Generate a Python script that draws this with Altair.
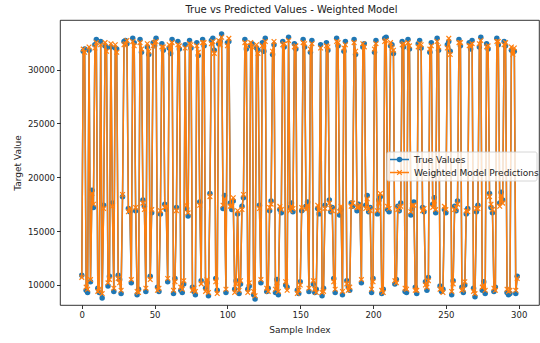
import altair as alt
import pandas as pd

# Sample positions and the two series plotted against them
sample_index = list(range(300))

true_values = [
    10900, 31700, 31900, 9500, 9300, 31800, 10300, 18800, 17200, 32300,
    32800, 9700, 9300, 32600, 8800, 17400, 32200, 32000, 9900, 10800,
    32100, 17600, 9400, 32000, 31900, 10900, 10500, 9200, 18200, 32600,
    32700, 32400, 17100, 16800, 10200, 32900, 32500, 16900, 9100, 9600,
    32800, 31600, 17900, 17300, 9400, 32100, 31400, 10800, 16700, 32500,
    32200, 32900, 9800, 9400, 16600, 32400, 31800, 17500, 17000, 10300,
    32000, 31500, 32800, 9200, 10600, 17200, 32600, 31900, 9500, 9300,
    10100, 32300, 17100, 16400, 32700, 32000, 9800, 9400, 9100, 32500,
    31300, 17700, 10400, 32800, 32200, 9700, 10200, 9000, 18500, 32700,
    32900, 31800, 10600, 9500, 32400, 32600, 33300, 17100, 18300, 9300,
    32500, 32600, 17600, 17000, 17800, 9600, 10400, 16600, 9200, 10100,
    17300, 18100, 32800, 31900, 9600, 9900, 32200, 32400, 9100, 8700,
    32000, 31800, 17400, 10200, 32500, 31700, 32900, 9400, 9700, 16900,
    17800, 31400, 32300, 9300, 10500, 9100, 17000, 16700, 32600, 32100,
    10000, 9800, 33000, 17200, 17600, 16800, 32400, 31900, 9500, 9200,
    10300, 16900, 32800, 32100, 17300, 17700, 9400, 31600, 32700, 10100,
    9300, 9600, 17100, 16600, 32300, 9000, 9700, 17400, 32500, 31800,
    17900, 16800, 17200, 10600, 9300, 32900, 32200, 16500, 17000, 9100,
    31700, 32600, 10400, 9800, 9500, 17600, 17300, 32800, 31400, 16900,
    17500, 17100, 10200, 32100, 32400, 17400, 18300, 16800, 17200, 9300,
    10600, 31600, 32700, 16600, 17900, 18200, 9200, 9600, 32900, 33000,
    17000, 16800, 32200, 32300, 31500, 10100, 10500, 17300, 16900, 17600,
    32600, 32100, 9400, 9300, 32800, 31900, 16500, 17100, 17700, 9800,
    9200, 32400, 32700, 32000, 17200, 16800, 10300, 9500, 10700, 31600,
    32500, 17500, 18100, 16700, 32900, 31800, 9900, 9400, 9600, 17000,
    16700, 32300, 32600, 31700, 9100, 10400, 17300, 16900, 17800, 32800,
    32200, 9800, 9300, 10000, 16600, 17100, 32500, 31900, 32700, 9700,
    8900, 16800, 17400, 32100, 33000, 9500, 10300, 9200, 32400, 31900,
    18500, 17200, 16700, 9400, 9800, 32900, 32300, 17600, 18600, 17900,
    32600, 32200, 9300, 9100, 9200, 31800, 31700, 31700, 9200, 10800,
]

predicted_values = [
    10700, 31900, 31600, 9800, 9600, 32100, 10500, 18500, 17500, 32000,
    32500, 9400, 9600, 32300, 9200, 17100, 32500, 31700, 10200, 10500,
    32400, 17300, 9700, 32300, 31600, 10600, 10200, 9500, 18400, 32300,
    32400, 32700, 16800, 17100, 10500, 32600, 32200, 17200, 9400, 9300,
    32500, 31900, 17600, 17000, 9700, 32400, 31700, 10500, 17000, 32200,
    32500, 32600, 9500, 9700, 16900, 32100, 32100, 17200, 17300, 10600,
    32300, 31800, 32500, 9500, 10300, 16900, 32300, 32200, 9800, 9600,
    10400, 32000, 17400, 16700, 32400, 32300, 9500, 9700, 9400, 32200,
    31600, 17400, 10100, 32500, 32500, 9400, 10500, 9300, 18200, 32400,
    32600, 31500, 10300, 9200, 32700, 32300, 33000, 17400, 18000, 9600,
    32200, 32900, 17300, 17300, 18100, 9300, 10100, 16900, 9500, 10400,
    17000, 18400, 32500, 32200, 9300, 10200, 32500, 32100, 9400, 9000,
    32300, 31500, 17100, 10500, 32200, 32000, 32600, 9700, 9400, 17200,
    17500, 31700, 32600, 9600, 10200, 9400, 17300, 17000, 32300, 32400,
    10300, 9500, 32700, 16900, 17300, 17100, 32100, 32200, 9200, 9500,
    10000, 17200, 32500, 32400, 17000, 17400, 9700, 31900, 32400, 10400,
    9600, 9300, 17400, 16900, 32000, 9300, 9400, 17100, 32200, 32100,
    17600, 17100, 16900, 10300, 9600, 32600, 32500, 16800, 17300, 9400,
    32000, 32300, 10100, 9500, 9800, 17300, 17600, 32500, 31700, 17200,
    17200, 17400, 10500, 32400, 32100, 17100, 18000, 17100, 16900, 9600,
    10300, 31900, 32400, 16900, 17600, 18500, 9500, 9300, 32600, 32700,
    17300, 17100, 32500, 32000, 31800, 10400, 10200, 17000, 17200, 17300,
    32300, 32400, 9700, 9600, 32500, 32200, 16800, 17400, 17400, 9500,
    9500, 32100, 32400, 32300, 16900, 17100, 10000, 9800, 10400, 31900,
    32200, 17200, 17800, 17000, 32600, 32100, 9600, 9700, 9300, 17300,
    17000, 32000, 32900, 31400, 9400, 10100, 17000, 17200, 17500, 32500,
    32500, 9500, 9600, 10300, 16900, 16800, 32200, 32200, 32400, 9400,
    9200, 17100, 17100, 32400, 32700, 9800, 10000, 9500, 32100, 32200,
    18200, 17500, 17000, 9700, 9500, 32600, 32600, 17300, 18300, 17600,
    32300, 32500, 9600, 9400, 9500, 32100, 31400, 32000, 9500, 10600,
]

assert len(true_values) == len(sample_index) == len(predicted_values)

series_names = ["True Values", "Weighted Model Predictions"]
series_colors = ["#1f77b4", "#ff7f0e"]
x_ticks = [0, 50, 100, 150, 200, 250, 300]
y_ticks = [10000, 15000, 20000, 25000, 30000]

true_df = pd.DataFrame({"Sample Index": sample_index, "Target Value": true_values})
pred_df = pd.DataFrame({"Sample Index": sample_index, "Target Value": predicted_values})

x_enc = alt.X(
    "Sample Index:Q",
    scale=alt.Scale(domain=[-14.95, 313.95], nice=False, zero=False),
    axis=alt.Axis(values=x_ticks, title="Sample Index", format="d"),
)
y_enc = alt.Y(
    "Target Value:Q",
    scale=alt.Scale(domain=[8140, 34600], nice=False, zero=False),
    axis=alt.Axis(values=y_ticks, title="Target Value", format="d"),
)

true_line = alt.Chart(true_df).mark_line(
    color=series_colors[0], strokeWidth=1.5
).encode(x=x_enc, y=y_enc)
true_pts = alt.Chart(true_df).mark_point(
    shape="circle", filled=True, size=30, color=series_colors[0], opacity=1
).encode(x=x_enc, y=y_enc)
pred_line = alt.Chart(pred_df).mark_line(
    color=series_colors[1], strokeWidth=1.5
).encode(x=x_enc, y=y_enc)
x_marker = "M-1,-1L1,1M-1,1L1,-1"
pred_pts = alt.Chart(pred_df).mark_point(
    shape=x_marker, filled=False, size=22, strokeWidth=1.2,
    color=series_colors[1], opacity=1
).encode(x=x_enc, y=y_enc)

# Legend box drawn in the plot's own pixel space
one = pd.DataFrame({"k": [0]})
lg_left, lg_right, lg_top, lg_bottom = 327, 477, 132, 161
row_y = [139.5, 152.5]
legend_box = alt.Chart(one).mark_rect(
    fill="white", fillOpacity=0.8, stroke="#cccccc", strokeWidth=0.8, cornerRadius=2
).encode(
    x=alt.value(lg_left), x2=alt.value(lg_right),
    y=alt.value(lg_top), y2=alt.value(lg_bottom),
)
legend_layers = [legend_box]
for i, name in enumerate(series_names):
    legend_layers.append(
        alt.Chart(one).mark_rule(color=series_colors[i], strokeWidth=1.5).encode(
            x=alt.value(330), x2=alt.value(349), y=alt.value(row_y[i])
        )
    )
    if i == 0:
        legend_layers.append(
            alt.Chart(one).mark_point(
                shape="circle", filled=True, size=30, color=series_colors[i], opacity=1
            ).encode(x=alt.value(339.5), y=alt.value(row_y[i]))
        )
    else:
        legend_layers.append(
            alt.Chart(one).mark_point(
                shape=x_marker, filled=False, size=22, strokeWidth=1.2,
                color=series_colors[i], opacity=1
            ).encode(x=alt.value(339.5), y=alt.value(row_y[i]))
        )
    legend_layers.append(
        alt.Chart(one).mark_text(
            text=name, align="left", baseline="middle", fontSize=9,
            font="DejaVu Sans", color="#222222"
        ).encode(x=alt.value(354), y=alt.value(row_y[i]))
    )

chart = alt.layer(true_line, true_pts, pred_line, pred_pts, *legend_layers).properties(
    width=479,
    height=285,
    autosize=alt.AutoSizeParams(type="none"),
    padding={"left": 60, "top": 20, "right": 1, "bottom": 38},
    title=alt.TitleParams(
        "True vs Predicted Values - Weighted Model",
        fontSize=10, font="DejaVu Sans", fontWeight="normal",
        color="#222222", offset=5, dx=-8,
    ),
).configure_axis(
    grid=False, domain=False, tickColor="black", tickSize=3.5, tickWidth=0.8,
    labelFontSize=8.5, labelFont="DejaVu Sans", labelColor="#222222", labelPadding=2,
    titleFontSize=9, titleFont="DejaVu Sans", titleFontWeight="normal",
    titleColor="#222222",
).configure_axisX(titlePadding=6).configure_axisY(titlePadding=5).configure_view(
    stroke="black", strokeWidth=0.8
)

chart.save("out.html", embed_options={"renderer": "svg", "actions": False})
